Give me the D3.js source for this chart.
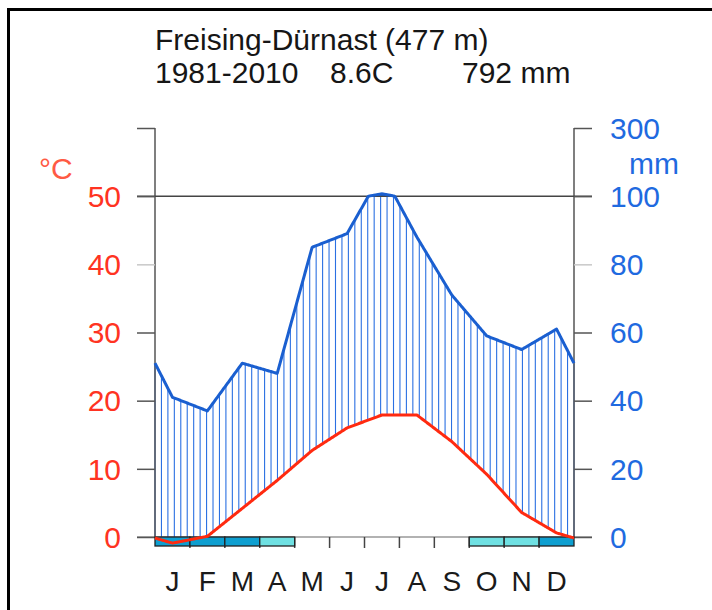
<!DOCTYPE html>
<html>
<head>
<meta charset="utf-8">
<script src="https://cdn.jsdelivr.net/npm/d3@7"></script>
<style>
  html, body { margin: 0; padding: 0; background: #fff; }
  svg { display: block; font-family: "Liberation Sans", Arial, sans-serif; }
</style>
</head>
<body>
<svg id="chart" width="712" height="610"></svg>
<script>
// Walter-Lieth climate diagram, Freising-Dürnast 1981-2010
const station = "Freising-Dürnast (477 m)";
const period = "1981-2010";
const meanTempLabel = "8.6C";
const annualPrecLabel = "792 mm";

const months = ["J", "F", "M", "A", "M", "J", "J", "A", "S", "O", "N", "D"];
const temperature = [-0.9, 0.1, 4.2, 8.3, 12.7, 16.0, 17.9, 17.9, 14.0, 9.2, 3.6, 0.6];
const precipitation = [41, 37, 51, 48, 85, 89, 107, 88, 71, 59, 55, 61];
// 2 = sure frost, 1 = probable frost, 0 = none
const frost = [2, 2, 2, 1, 0, 0, 0, 0, 0, 1, 1, 2];

const tempTicks = [0, 10, 20, 30, 40, 50];
const precTickLabels = ["0", "20", "40", "60", "80", "100"];
const topTickLabel = "300";

const svg = d3.select("#chart");
const W = 712, H = 610;
const plotL = 155, plotR = 574, plotT = 128, plotB = 537;
const fs = 30;

const x = d3.scaleLinear().domain([0, 12]).range([plotL, plotR]);
const y = d3.scaleLinear().domain([0, 60]).range([plotB, plotT]);

// precipitation (mm) to temperature units: 20 mm per 10 °C up to 100 mm, compressed above
const pToT = p => p <= 100 ? p / 2 : 50 + (p - 100) / 20;

// extended series with Dec/Jan wrapping so the curves reach both edges
const xs = d3.range(-1, 13).map(i => i + 0.5);
const tExt = [temperature[11], ...temperature, temperature[0]];
const pExt = [precipitation[11], ...precipitation, precipitation[0]];
const interp = (arr, xv) => {
  const i = Math.min(Math.max(Math.floor(xv + 0.5), 0), arr.length - 2);
  const f = (xv - xs[i]) / (xs[i + 1] - xs[i]);
  return arr[i] + f * (arr[i + 1] - arr[i]);
};

// border
svg.append("path")
  .attr("d", `M8.5,${H} V9.5 H${W}`)
  .attr("fill", "none").attr("stroke", "#000").attr("stroke-width", 3);

// title
svg.append("text").attr("x", plotL).attr("y", 50)
  .attr("font-size", fs).attr("fill", "#161616").text(station);
const sub = svg.append("g").attr("font-size", fs).attr("fill", "#161616");
sub.append("text").attr("x", plotL).attr("y", 83).text(period);
sub.append("text").attr("x", 330).attr("y", 83).text(meanTempLabel);
sub.append("text").attr("x", 462).attr("y", 83).text(annualPrecLabel);

// humid period hatching: vertical lines between temperature and precipitation
const nHatch = 66;
const hx = d3.range(nHatch).map(i => 12 * i / (nHatch - 1))
  .filter(d => interp(pExt, d) > interp(tExt, d) * 2);
svg.append("g").selectAll("line").data(hx).join("line")
  .attr("x1", d => x(d)).attr("x2", d => x(d))
  .attr("y1", d => y(interp(tExt, d)))
  .attr("y2", d => y(Math.min(interp(pExt, d), 100) / 2))
  .attr("stroke", "#2b70e2").attr("stroke-width", 1.1);

// dense sampling for curves (piecewise linear in data units)
const dense = d3.range(0, 12.0001, 0.02);

// part above 100 mm, filled solid
const above = dense.filter(d => interp(pExt, d) > 100);
if (above.length) {
  svg.append("path")
    .datum(above)
    .attr("fill", "#1a5fd0")
    .attr("d", d3.area().x(d => x(d)).y0(y(50)).y1(d => y(pToT(interp(pExt, d)))));
}

// axes frame
const axisCol = "#555";
svg.append("line").attr("x1", plotL).attr("x2", plotL).attr("y1", plotT).attr("y2", plotB)
  .attr("stroke", axisCol).attr("stroke-width", 1.5);
svg.append("line").attr("x1", plotR).attr("x2", plotR).attr("y1", plotT).attr("y2", plotB)
  .attr("stroke", axisCol).attr("stroke-width", 1.5);

// horizontal reference lines at 0 and 50 °C
svg.append("line").attr("x1", plotL - 18).attr("x2", plotR + 18).attr("y1", y(50)).attr("y2", y(50))
  .attr("stroke", "#444").attr("stroke-width", 1.5);
svg.append("line").attr("x1", plotL - 18).attr("x2", plotR + 18).attr("y1", y(0)).attr("y2", y(0))
  .attr("stroke", "#666").attr("stroke-width", 1.2);

// left axis (temperature)
const leftAxis = d3.axisLeft(y).tickValues([...tempTicks, 60]).tickSize(18).tickFormat("");
const gl = svg.append("g").attr("transform", `translate(${plotL},0)`).call(leftAxis);
gl.select(".domain").remove();
gl.selectAll(".tick line").attr("stroke", d => d === 40 ? "#c8c8c8" : axisCol).attr("stroke-width", 1.5);
svg.append("g").selectAll("text").data(tempTicks).join("text")
  .attr("x", 121).attr("y", d => y(d)).attr("dy", "0.36em")
  .attr("text-anchor", "end").attr("font-size", fs).attr("fill", "#ff3322")
  .text(d => d);
svg.append("text").attr("x", 39).attr("y", 168).attr("dy", "0.36em")
  .attr("font-size", fs).attr("fill", "#ff5a44").text("°C");

// right axis (precipitation)
const rightAxis = d3.axisRight(y).tickValues([...tempTicks, 60]).tickSize(18).tickFormat("");
const gr = svg.append("g").attr("transform", `translate(${plotR},0)`).call(rightAxis);
gr.select(".domain").remove();
gr.selectAll(".tick line").attr("stroke", d => d === 40 ? "#c8c8c8" : axisCol).attr("stroke-width", 1.5);
svg.append("g").selectAll("text").data(tempTicks).join("text")
  .attr("x", 610).attr("y", d => y(d)).attr("dy", "0.36em")
  .attr("font-size", fs).attr("fill", "#1f6ae0")
  .text((d, i) => precTickLabels[i]);
svg.append("text").attr("x", 610).attr("y", y(60)).attr("dy", "0.36em")
  .attr("font-size", fs).attr("fill", "#1f6ae0").text(topTickLabel);
svg.append("text").attr("x", 629).attr("y", 163).attr("dy", "0.36em")
  .attr("font-size", fs).attr("fill", "#1f6ae0").text("mm");

// month boundary ticks below the axis
svg.append("g").selectAll("line").data(d3.range(1, 12)).join("line")
  .attr("x1", d => x(d)).attr("x2", d => x(d))
  .attr("y1", plotB).attr("y2", plotB + 11)
  .attr("stroke", "#444").attr("stroke-width", 1.5);

// frost band
const frostCol = ["none", "#6fe0e2", "#0e9fd0"];
svg.append("g").selectAll("rect").data(d3.range(12).filter(i => frost[i] > 0)).join("rect")
  .attr("x", i => x(i)).attr("width", i => x(i + 1) - x(i))
  .attr("y", plotB).attr("height", 9)
  .attr("fill", i => frostCol[frost[i]])
  .attr("stroke", "#222").attr("stroke-width", 1.3);

// precipitation curve
svg.append("path").datum(dense)
  .attr("fill", "none").attr("stroke", "#1a5fd0").attr("stroke-width", 3)
  .attr("stroke-linejoin", "round")
  .attr("d", d3.line().x(d => x(d)).y(d => y(pToT(interp(pExt, d)))));

// temperature curve
svg.append("path").datum(dense)
  .attr("fill", "none").attr("stroke", "#ff2a10").attr("stroke-width", 3)
  .attr("stroke-linejoin", "round")
  .attr("d", d3.line().x(d => x(d)).y(d => y(interp(tExt, d))));

// month labels
svg.append("g").selectAll("text").data(months).join("text")
  .attr("x", (d, i) => x(i + 0.5)).attr("y", 591)
  .attr("text-anchor", "middle").attr("font-size", 28).attr("fill", "#1a1a1a")
  .text(d => d);
</script>
</body>
</html>
